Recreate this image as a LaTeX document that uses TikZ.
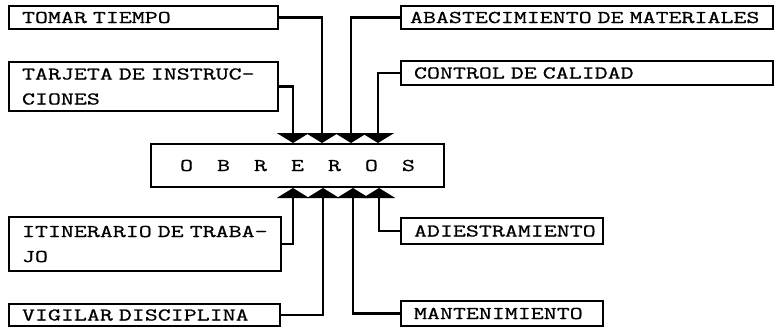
\documentclass[tikz,border=0pt]{standalone}
\usepackage{fontspec}
\newfontfamily\cajafont{lmmono12-regular.otf}[FakeStretch=1.40,FakeBold=0.8,WordSpace=1.45]
\usetikzlibrary{arrows.meta,calc}

\begin{document}
\begin{tikzpicture}[x=1pt,y=-1pt,
    caja/.style={rectangle, draw, line width=2pt, anchor=north west, align=left,
                 inner xsep=13pt, inner ysep=0pt,
                 font=\cajafont\fontsize{18}{25}\selectfont},
    flecha/.style={line width=2.6pt, -{Triangle[width=32pt,length=10pt]}}]
  \useasboundingbox (0,0) rectangle (776,329);

  % central box
  \node[caja, align=center, minimum width=293pt, minimum height=43pt] (obreros) at (150,143)
    {O\hspace{24pt}B\hspace{24pt}R\hspace{24pt}E\hspace{24pt}R\hspace{24pt}O\hspace{24pt}S};

  % boxes above
  \node[caja, text width=243pt, minimum height=23pt] (tomar) at (8,5) {TOMAR TIEMPO};
  \node[caja, text width=243pt, minimum height=49pt] (tarjeta) at (8,61) {TARJETA DE INSTRUC-\\CIONES};
  \node[caja, inner xsep=9pt, text width=354pt, minimum height=23pt] (abast) at (400,5) {ABASTECIMIENTO DE MATERIALES};
  \node[caja, text width=346pt, minimum height=24pt] (control) at (400,60) {CONTROL DE CALIDAD};

  % boxes below
  \node[caja, text width=246pt, minimum height=54pt] (itinerario) at (8,216) {ITINERARIO DE TRABA-\\JO};
  \node[caja, text width=245pt, minimum height=22pt] (vigilar) at (8,303) {VIGILAR DISCIPLINA};
  \node[caja, text width=176pt, minimum height=26pt] (adiestr) at (400,217) {ADIESTRAMIENTO};
  \node[caja, text width=176pt, minimum height=25pt] (manten) at (400,300) {MANTENIMIENTO};

  % entry points on the central box
  \coordinate (e1) at ($(obreros.north west)+(143,0)$);
  \coordinate (e2) at ($(obreros.north west)+(172,0)$);
  \coordinate (e3) at ($(obreros.north west)+(201,0)$);
  \coordinate (e4) at ($(obreros.north west)+(228,0)$);
  \coordinate (s1) at ($(obreros.south west)+(143,0)$);
  \coordinate (s2) at ($(obreros.south west)+(173,0)$);
  \coordinate (s3) at ($(obreros.south west)+(203,0)$);
  \coordinate (s4) at ($(obreros.south west)+(229,0)$);

  \draw[flecha] (tarjeta.east) -| (e1);
  \draw[flecha] (tomar.east) -| (e2);
  \draw[flecha] (abast.west) -| (e3);
  \draw[flecha] (control.west) -| (e4);
  \draw[flecha] (itinerario.east) -| (s1);
  \draw[flecha] (vigilar.east) -| (s2);
  \draw[flecha] (manten.west) -| (s3);
  \draw[flecha] (adiestr.west) -| (s4);
\end{tikzpicture}
\end{document}
